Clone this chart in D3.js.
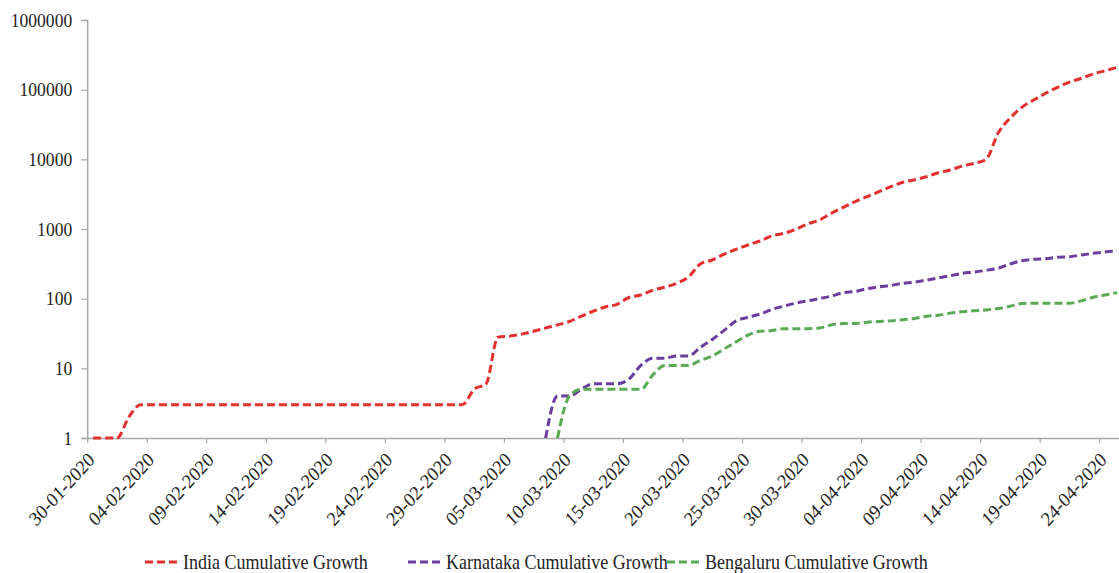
<!DOCTYPE html>
<html>
<head>
<meta charset="utf-8">
<script src="https://cdn.jsdelivr.net/npm/d3@7"></script>
<style>
  html, body { margin: 0; padding: 0; background: #fff; }
  svg text { font-family: "Liberation Serif", "Times New Roman", serif; fill: #222; }
</style>
</head>
<body>
<svg id="chart" width="1119" height="573"></svg>
<script>
// Daily categories: 30-01-2020 through 25-04-2020
const startDate = "30-01-2020";
const endDate = "26-04-2020"; // exclusive

const tickLabels = ["30-01-2020", "04-02-2020", "09-02-2020", "14-02-2020", "19-02-2020",
  "24-02-2020", "29-02-2020", "05-03-2020", "10-03-2020", "15-03-2020", "20-03-2020",
  "25-03-2020", "30-03-2020", "04-04-2020", "09-04-2020", "14-04-2020", "19-04-2020",
  "24-04-2020"];

const yTicks = [1, 10, 100, 1000, 10000, 100000, 1000000];

// Cumulative counts, one per day starting 30-01-2020
const india = [
  1, 1, 1, 2, 3, 3, 3, 3, 3, 3, 3, 3, 3, 3, 3, 3, 3, 3, 3, 3,
  3, 3, 3, 3, 3, 3, 3, 3, 3, 3, 3, 3, 5, 6, 28, 29, 31, 34, 38, 42,
  47, 56, 66, 76, 83, 104, 113, 132, 146, 166, 205, 315, 359, 437, 511, 589, 673, 793, 865, 988,
  1180, 1347, 1680, 2047, 2466, 2911, 3435, 4050, 4680, 5100, 5640, 6430, 7030, 8020, 8770, 10000,
  23600, 38800, 55800, 71100, 88700, 108000, 128000, 146000, 168000, 187000, 209000
];

const karnataka = [
  null, null, null, null, null, null, null, null, null, null, null, null, null, null, null, null, null, null, null, null,
  null, null, null, null, null, null, null, null, null, null, null, null, null, null, null, null, null, null, 1, 4,
  4, 5, 6, 6, 6, 7, 11, 14, 14, 15, 15, 20, 26, 35, 48, 54, 60, 70, 78, 86,
  93, 100, 109, 122, 127, 139, 148, 155, 166, 173, 185, 198, 214, 231, 241, 255,
  273, 314, 351, 367, 375, 392, 400, 424, 448, 468, 483
];

const bengaluru = [
  null, null, null, null, null, null, null, null, null, null, null, null, null, null, null, null, null, null, null, null,
  null, null, null, null, null, null, null, null, null, null, null, null, null, null, null, null, null, null, null, 1,
  4, 5, 5, 5, 5, 5, 5, 8, 11, 11, 11, 13, 15, 19, 24, 30, 34, 35, 37, 37,
  37, 38, 42, 44, 44, 46, 47, 48, 50, 52, 56, 58, 62, 65, 67, 69,
  72, 78, 85, 86, 86, 86, 86, 93, 105, 113, 122
];

const seriesNames = ["India Cumulative Growth", "Karnataka Cumulative Growth", "Bengaluru Cumulative Growth"];
const seriesColors = ["#e3302f", "#6a3d9e", "#5aaa55"];

const parse = d3.timeParse("%d-%m-%Y");
const days = d3.timeDay.range(parse(startDate), parse(endDate));

const svg = d3.select("#chart");
const margin = { left: 87.2, top: 20, bottom: 438 };
const dayWidth = 11.906;
const squeeze = "scale(0.9,1)"; // narrow serif lettering

const x = d3.scaleTime()
  .domain([parse(startDate), parse(endDate)])
  .range([margin.left, margin.left + days.length * dayWidth]);

const y = d3.scaleLog()
  .domain([1, 1000000])
  .range([margin.bottom, margin.top]);

// Points sit in the middle of each day's slot
const xc = d => x(d3.timeHour.offset(d, 12));

// Y axis
const yAxis = svg.append("g")
  .attr("transform", `translate(${margin.left},0)`)
  .call(d3.axisLeft(y).tickValues(yTicks).tickFormat(d3.format("d")).tickSize(6).tickPadding(9));
yAxis.select(".domain").attr("stroke", "#a8a8a8").attr("stroke-width", 1.5);
yAxis.selectAll(".tick line").attr("stroke", "#a8a8a8").attr("stroke-width", 1.2);
yAxis.selectAll(".tick text")
  .attr("font-size", 19.5)
  .attr("fill", "#222")
  .attr("x", 0)
  .attr("transform", `translate(-15,0) ${squeeze}`);

// X axis
const xAxis = svg.append("g")
  .attr("transform", `translate(0,${margin.bottom})`)
  .call(d3.axisBottom(x).tickValues(tickLabels.map(parse)).tickFormat(d3.timeFormat("%d-%m-%Y")).tickSize(5).tickSizeOuter(0));
xAxis.select(".domain").attr("stroke", "#a8a8a8").attr("stroke-width", 1.5);
xAxis.selectAll(".tick line").attr("stroke", "#a8a8a8").attr("stroke-width", 1.2);
xAxis.selectAll(".tick text")
  .attr("font-size", 20)
  .attr("fill", "#222")
  .attr("text-anchor", "end")
  .attr("dy", null)
  .attr("y", null)
  .attr("transform", `translate(8,23) ${squeeze} rotate(-45)`);

// Lines
const line = d3.line()
  .defined(d => d.v != null)
  .x(d => xc(d.date))
  .y(d => y(d.v))
  .curve(d3.curveMonotoneX);

[india, karnataka, bengaluru].forEach((vals, i) => {
  const pts = days.map((date, k) => ({ date, v: vals[k] }));
  svg.append("path")
    .datum(pts)
    .attr("fill", "none")
    .attr("stroke", seriesColors[i])
    .attr("stroke-width", 3)
    .attr("stroke-dasharray", "8,4")
    .attr("d", line);
});

// Legend
const legendX = [145, 408, 667];
const legend = svg.append("g").attr("transform", "translate(0,562)");
seriesNames.forEach((name, i) => {
  const g = legend.append("g").attr("transform", `translate(${legendX[i]},0)`);
  g.append("line")
    .attr("x1", 0).attr("x2", 33).attr("y1", 0).attr("y2", 0)
    .attr("stroke", seriesColors[i]).attr("stroke-width", 3).attr("stroke-dasharray", "8,4");
  g.append("text")
    .attr("transform", `translate(38,0) ${squeeze}`)
    .attr("dy", "0.35em")
    .attr("font-size", 20)
    .text(name);
});
</script>
</body>
</html>
